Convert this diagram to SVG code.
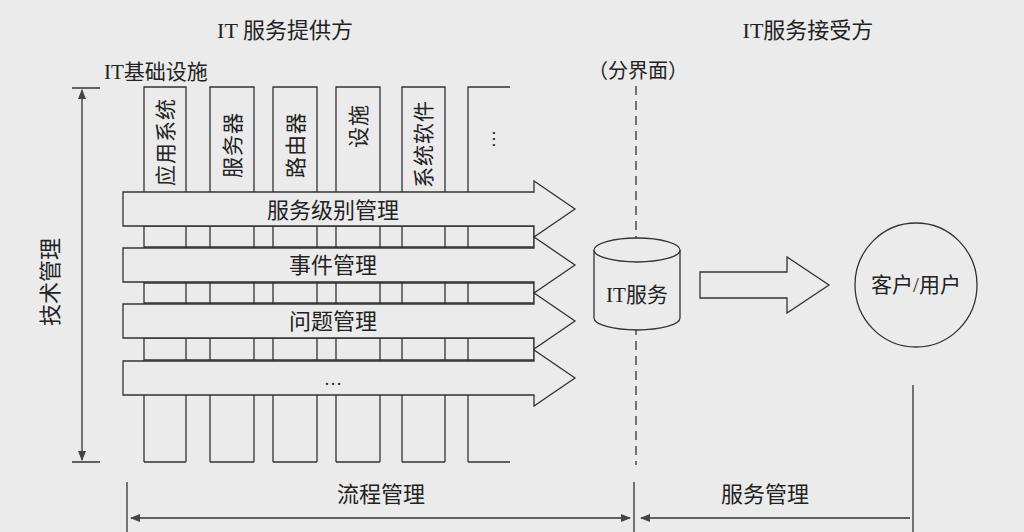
<svg xmlns="http://www.w3.org/2000/svg" width="1024" height="532" viewBox="0 0 1024 532">
<style>
text{font-family:"Liberation Serif","Noto Sans CJK SC",serif;fill:#222}
.s{fill:none;stroke:#333;stroke-width:1.3}
.a{fill:#ebebeb;stroke:#333;stroke-width:1.3}
.v{font-size:21px;letter-spacing:1px}
</style>
<defs><marker id="m" viewBox="0 0 10 10" refX="9" refY="5" markerWidth="8" markerHeight="8" orient="auto-start-reverse"><path d="M0,1L10,5L0,9z" fill="#444"/></marker></defs>
<rect width="1024" height="532" fill="#ebebeb"/>
<text x="285" y="38" font-size="22" text-anchor="middle">IT 服务提供方</text>
<text x="808" y="38" font-size="22" text-anchor="middle">IT服务接受方</text>
<text x="104" y="79" font-size="21">IT基础设施</text>
<text x="638" y="78" font-size="20" text-anchor="middle">（分界面）</text>
<g id="columns" class="s">
<path d="M144,462V87H186V462M210,462V87H254V462M273,462V87H317V462M336,462V87H380V462M402,462V87H445V462M468,462V87H510M468,462H510"/>
<path d="M144,462H186M210,462H254M273,462H317M336,462H380M402,462H445"/>
<path d="M144,226H534M144,247H534M144,283H534M144,303H534M144,338H534M144,360H534"/>
<path d="M534,226V247M534,283V303M534,338V360"/>
</g>
<g id="col-labels">
<text class="v" transform="translate(173,186) rotate(-90)">应用系统</text>
<text class="v" transform="translate(240,178) rotate(-90)">服务器</text>
<text class="v" transform="translate(303,178) rotate(-90)">路由器</text>
<text class="v" transform="translate(366,148) rotate(-90)">设施</text>
<text class="v" transform="translate(431,188) rotate(-90)">系统软件</text>
<text transform="translate(495,148) rotate(-90)" font-size="18">…</text>
</g>
<g id="arrow1"><path class="a" d="M123,192H534V181L575,209L534,237V226H123Z"/><text x="333" y="218" font-size="22" text-anchor="middle">服务级别管理</text></g>
<g id="arrow2"><path class="a" d="M123,248H534V237L575,265L534,293V282H123Z"/><text x="333" y="273" font-size="22" text-anchor="middle">事件管理</text></g>
<g id="arrow3"><path class="a" d="M123,304H534V293L575,321L534,349V338H123Z"/><text x="333" y="329" font-size="22" text-anchor="middle">问题管理</text></g>
<g id="arrow4"><path class="a" d="M123,361H534V350L575,378L534,406V395H123Z"/><text x="333" y="385" font-size="18" text-anchor="middle">…</text></g>
<g id="connectors" class="s">
<path d="M636,86V465" stroke-dasharray="9,6"/>
<path d="M82,90V460" marker-start="url(#m)" marker-end="url(#m)"/>
<path d="M72,88H100M72,462H100"/>
<path d="M127,482V532M634,482V532M913,385V532"/>
<path d="M131,518H630" marker-start="url(#m)" marker-end="url(#m)"/>
<path d="M910,518H641" marker-end="url(#m)"/>
</g>
<text x="58" y="282" font-size="22" text-anchor="middle" transform="rotate(-90 58 282)">技术管理</text>
<g id="itservice">
<path class="a" d="M594,250V318A43,12 0 0 0 680,318V250"/>
<ellipse class="a" cx="637" cy="250" rx="43" ry="12"/>
<text x="637" y="302" font-size="21" text-anchor="middle">IT服务</text>
</g>
<g id="arrow5"><path class="a" d="M700,272H787V257L829,285L787,313V298H700Z"/></g>
<g id="customer"><ellipse class="a" cx="916" cy="285" rx="61" ry="62"/><text x="916" y="292" font-size="21" text-anchor="middle">客户/用户</text></g>
<text x="381" y="502" font-size="22" text-anchor="middle">流程管理</text>
<text x="765" y="502" font-size="22" text-anchor="middle">服务管理</text>
</svg>
